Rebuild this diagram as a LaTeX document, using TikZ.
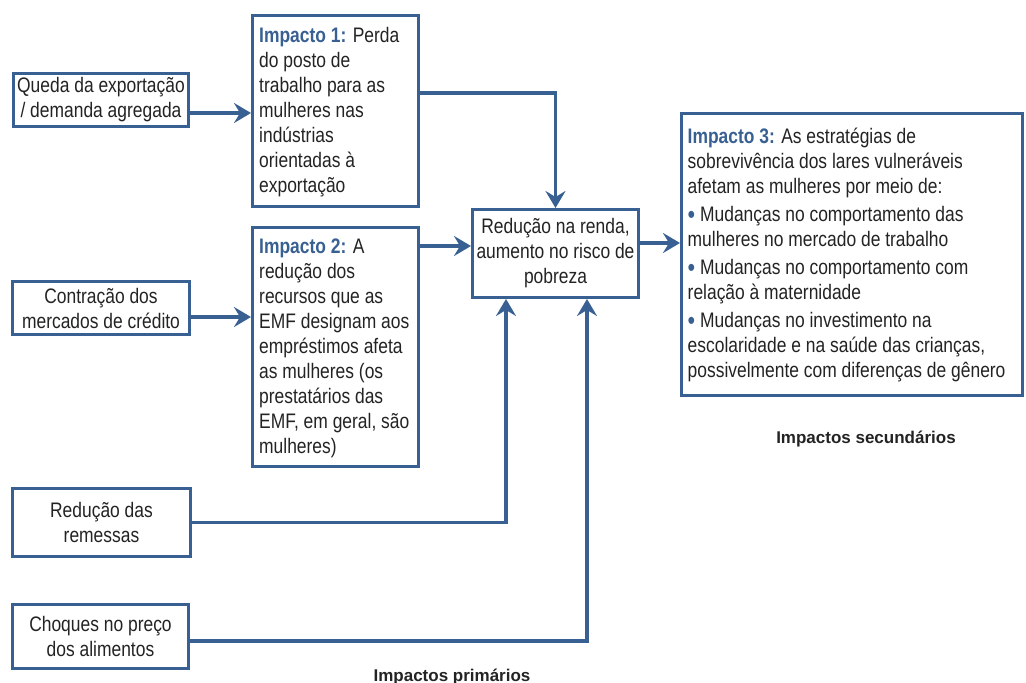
\documentclass[tikz,border=0pt]{standalone}
\usepackage{fontspec}
\setmainfont{Liberation Sans}[FakeStretch=0.83]
\newfontfamily\labelfont{Liberation Sans}
\usetikzlibrary{arrows.meta}
\definecolor{boxblue}{RGB}{56,96,146}
\definecolor{txt}{RGB}{35,35,35}
\tikzset{
  box/.style={draw=boxblue, line width=3pt, text=txt, inner sep=0pt,
    font=\fontsize{21}{25}\selectfont},
  simplebox/.style={box, align=center},
  textblock/.style={text=txt, inner sep=0pt, align=left, anchor=west,
    font=\fontsize{21}{25}\selectfont},
  arr/.style={draw=boxblue, line width=3.2pt,
    -{Stealth[length=17pt,width=20pt,inset=6pt]}},
  sectlabel/.style={font=\labelfont\bfseries\fontsize{17}{20}\selectfont, text=txt, inner sep=0pt}
}
\newcommand{\imptitle}[1]{\textcolor{boxblue}{\bfseries #1}}
\newcommand{\blt}{\textcolor{boxblue}{\raisebox{-2pt}{\fontsize{26}{25}\selectfont •}}}
\begin{document}
\begin{tikzpicture}[x=1pt,y=-1pt]
\useasboundingbox (0,0) rectangle (1026,683);

\node[simplebox, minimum width=175pt, minimum height=53pt] (queda) at (101,100)
  {Queda da exportação\\/ demanda agregada};
\node[simplebox, minimum width=177pt, minimum height=53pt] (contr) at (101,308)
  {Contração dos\\mercados de crédito};
\node[simplebox, minimum width=178pt, minimum height=68pt] (remes) at (101.5,522.5)
  {Redução das\\remessas};
\node[simplebox, minimum width=176pt, minimum height=64pt] (choq) at (100.5,636.5)
  {Choques no preço\\dos alimentos};

\node[box, minimum width=166pt, minimum height=191pt] (imp1) at (335.5,111) {};
\node[textblock] (imp1txt) at ([xshift=8pt,yshift=-1pt]imp1.west)
  {\imptitle{Impacto 1:} Perda\\do posto de\\trabalho para as\\mulheres nas\\indústrias\\orientadas à\\exportação};
\node[box, minimum width=166pt, minimum height=239pt] (imp2) at (335.5,347) {};
\node[textblock] (imp2txt) at ([xshift=8pt,yshift=-1pt]imp2.west)
  {\imptitle{Impacto 2:} A\\redução dos\\recursos que as\\EMF designam aos\\empréstimos afeta\\as mulheres (os\\prestatários das\\EMF, em geral, são\\mulheres)};

\node[simplebox, minimum width=166pt, minimum height=88pt] (red) at (555.5,253.5)
  {Redução na renda,\\aumento no risco de\\pobreza};

\node[box, minimum width=341pt, minimum height=282pt] (imp3) at (852,254.5) {};
\node[textblock] (imp3txt) at ([xshift=7.5pt]imp3.west)
  {\imptitle{Impacto 3:} As estratégias de\\sobrevivência dos lares vulneráveis\\afetam as mulheres por meio de:\\[3pt]
   \blt{} Mudanças no comportamento das\\mulheres no mercado de trabalho\\[3pt]
   \blt{} Mudanças no comportamento com\\relação à maternidade\\[3pt]
   \blt{} Mudanças no investimento na\\escolaridade e na saúde das crianças,\\possivelmente com diferenças de gênero};

\node[sectlabel, anchor=base] (seclab) at (866,443) {Impactos secundários};
\node[sectlabel, anchor=base] (primlab) at (452,681) {Impactos primários};

% connectors
\path ([yshift=-13pt]queda.east) coordinate (q1);
\draw[arr] (q1) -- (q1 -| imp1.west);
\path ([yshift=-9pt]contr.east) coordinate (c1);
\draw[arr] (c1) -- (c1 -| imp2.west);
\path (imp1.east |- 0,93) coordinate (i1);
\draw[arr] (i1) -| (red.north);
\path (imp2.east |- 0,246) coordinate (i2);
\draw[arr] (i2) -- (i2 -| red.west);
\path ([xshift=-49.5pt]red.south) coordinate (rs1);
\draw[arr] (remes.east) -| (rs1);
\path ([xshift=31.5pt]red.south) coordinate (rs2);
\path ([yshift=-4.5pt]choq.east) coordinate (ch1);
\draw[arr] (ch1) -| (rs2);
\path (red.east |- 0,243) coordinate (r1);
\draw[arr] (r1) -- (r1 -| imp3.west);
\end{tikzpicture}
\end{document}
